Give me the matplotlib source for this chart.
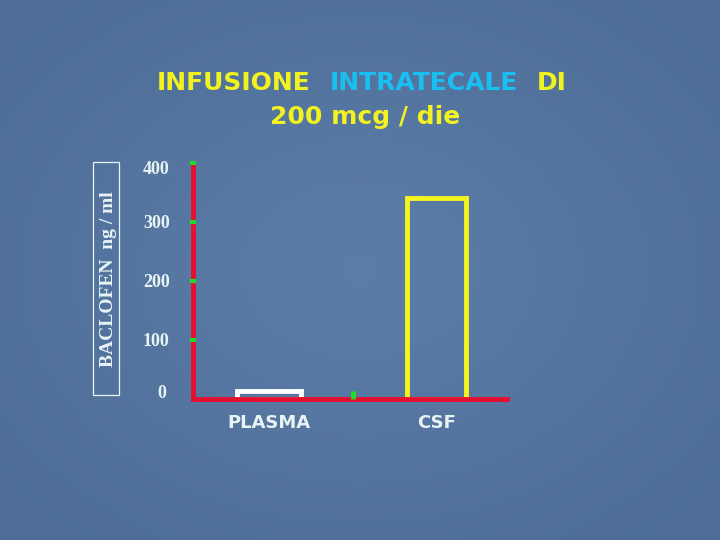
import numpy as np
import matplotlib
matplotlib.use("Agg")
import matplotlib.pyplot as plt
from matplotlib.patches import Rectangle
from matplotlib.colors import LinearSegmentedColormap
from matplotlib.transforms import ScaledTranslation

# data
categories = ["PLASMA", "CSF"]
baclofen = [14, 340]          # ng / ml
yticks = [0, 100, 200, 300, 400]
title_parts = [("INFUSIONE", "#f2f21e"), ("INTRATECALE", "#18bff0"), ("DI", "#f2f21e")]
title_line2 = "200 mcg / die"
ylabel = "BACLOFEN  ng / ml"

# colours
pale = "#e8f4f4"
red = "#e5102e"
green = "#1edc28"
bar_colors = ["white", "#f5f51e"]

fig = plt.figure(figsize=(7.2, 5.4), dpi=100, facecolor="#4f7099")

# background: slightly lighter in the middle, like the slide texture
bgax = fig.add_axes([0, 0, 1, 1], zorder=-10)
gx, gy = np.meshgrid(np.linspace(-1, 1, 200), np.linspace(-1, 1, 150))
glow = np.exp(-(gx**2 + gy**2) * 1.2)
cmap = LinearSegmentedColormap.from_list("bg", ["#4d6d97", "#5b7ca7"])
bgax.imshow(glow, cmap=cmap, aspect="auto", extent=[0, 1, 0, 1])
bgax.axis("off")

# chart area
ax = fig.add_axes([0.2681, 0.2611, 0.4357, 0.4376])
ax.patch.set_visible(False)
x = np.arange(1, len(categories) + 1)
ax.bar(x, baclofen, width=[0.383, 0.355], fill=False,
       edgecolor=bar_colors, linewidth=3.5, zorder=1.0)
ax.set_xlim(0.543, 2.4216)
ax.set_ylim(0, 400)

for s in ["top", "right"]:
    ax.spines[s].set_visible(False)
for s in ["left", "bottom"]:
    ax.spines[s].set_color(red)
    ax.spines[s].set_linewidth(3.5)
    ax.spines[s].set_zorder(1.2)   # green ticks sit on top of the red axes

# y axis
ax.set_yticks(yticks)
ax.set_yticklabels([str(v) for v in yticks])
ax.tick_params(axis="y", direction="inout", length=5, width=3, color=green,
               pad=24, labelsize=13, labelcolor=pale)
for lab in ax.get_yticklabels():
    lab.set_fontfamily("Liberation Serif")
    lab.set_fontweight("bold")
    lab.set_ha("center")
ax.yaxis.get_major_ticks()[0].tick1line.set_visible(False)
labs = ax.get_yticklabels()
labs[0].set_transform(labs[0].get_transform() + ScaledTranslation(6 / 100, 8 / 100, fig.dpi_scale_trans))
labs[-1].set_transform(labs[-1].get_transform() + ScaledTranslation(0, -5 / 100, fig.dpi_scale_trans))

# x axis
ax.set_xticks(x)
ax.set_xticklabels(categories)
ax.tick_params(axis="x", which="major", length=0, pad=11, labelsize=13, labelcolor=pale)
for lab in ax.get_xticklabels():
    lab.set_fontweight("bold")
ax.set_xticks([1.5], minor=True)
ax.tick_params(axis="x", which="minor", direction="in", length=6, width=3.5, color=green)

# boxed y label
fig.text(109 / 720, 1 - 279 / 540, ylabel, rotation=90, ha="center", va="center",
         family="Liberation Serif", fontweight="bold", fontsize=14, color=pale)
fig.add_artist(Rectangle((0.1296, 0.268), 0.0361, 0.4315, transform=fig.transFigure,
                         fill=False, edgecolor=pale, linewidth=0.9))

# two-colour title
renderer = fig.canvas.get_renderer()
gap = 19
texts = []
for word, col in title_parts:
    t = fig.text(0, 1 - 90 / 540, word, ha="left", va="baseline", color=col,
                 fontsize=18, fontweight="bold")
    texts.append(t)
widths = [t.get_window_extent(renderer).width for t in texts]
xpos = 362 - (sum(widths) + gap * (len(texts) - 1)) / 2
for t, w in zip(texts, widths):
    t.set_x(xpos / 720)
    xpos += w + gap
fig.text(365 / 720, 1 - 124.3 / 540, title_line2, ha="center", va="baseline",
         color="#f2f21e", fontsize=18, fontweight="bold")

fig.savefig("out.png", dpi=100, facecolor=fig.get_facecolor())
